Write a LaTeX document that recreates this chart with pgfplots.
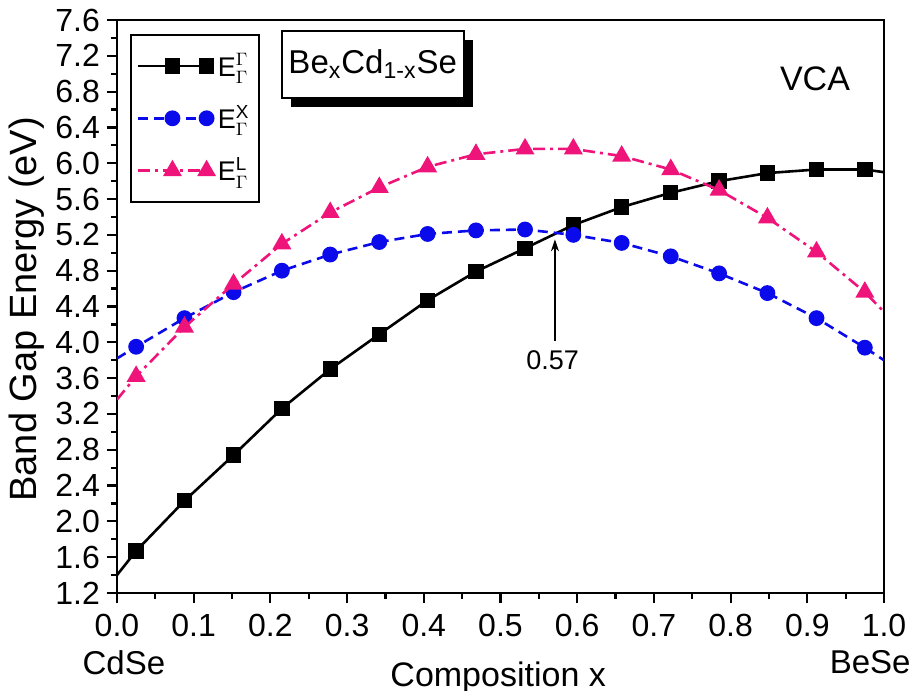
\documentclass[border=0pt]{standalone}
\usepackage{amsmath}
\usepackage{fontspec}
\setmainfont{Liberation Sans}
\usepackage{pgfplots}
\pgfplotsset{compat=1.18}
\usetikzlibrary{shadows,arrows.meta}

\definecolor{cblue}{RGB}{10,10,235}
\definecolor{cpink}{RGB}{238,20,122}

\begin{document}
\begin{tikzpicture}
\begin{axis}[
  scale only axis,
  width=383.5pt, height=286.5pt,
  xmin=0, xmax=1, ymin=1.2, ymax=7.6,
  clip mode=individual,
  xtick={0,0.1,...,1.0}, minor x tick num=1,
  ytick={1.2,1.6,...,7.6}, minor y tick num=1,
  xtick pos=bottom, ytick pos=left,
  tick align=outside,
  major tick length=5pt, minor tick length=3pt,
  every tick/.style={black, line width=1.1pt},
  axis line style={line width=1.4pt},
  /pgf/number format/assume math mode=true,
  /pgf/number format/.cd, fixed, fixed zerofill, precision=1, /pgfplots/.cd,
  tick label style={font=\fontsize{16}{16}\selectfont},
  xticklabel style={yshift=-2pt},
  ylabel={Band Gap Energy (eV)},
  ylabel style={font=\fontsize{19}{19}\selectfont, at={(rel axis cs:-0.118,0.495)}, anchor=center},
  legend style={at={(rel axis cs:0.017,0.975)}, anchor=north west,
    draw=black, line width=1pt, font=\fontsize{13.5}{13.5}\selectfont,
    row sep=9pt, inner ysep=7pt, inner xsep=3pt},
  legend cell align=left,
  legend image code/.code={\draw[mark repeat=2,mark phase=2] plot coordinates {(0cm,0cm) (0.6cm,0cm) (1.2cm,0cm)};},
]
\addplot[black, line width=1.3pt, mark=square*, mark size=3.2pt, mark options={solid}, mark indices={2,...,17}] coordinates {
  (0.000,1.40) (0.025,1.67) (0.088,2.23) (0.152,2.74) (0.215,3.26) (0.278,3.70)
  (0.342,4.09) (0.405,4.47) (0.468,4.79) (0.532,5.05) (0.595,5.31) (0.658,5.51)
  (0.722,5.67) (0.785,5.80) (0.848,5.89) (0.912,5.93) (0.975,5.93) (1.000,5.90)
};
\addlegendentry{E$^{\Gamma}_{\Gamma}$}
\addplot[cblue, line width=1.3pt, dash pattern=on 5pt off 3pt, mark=*, mark size=3.3pt, mark options={solid}, mark indices={2,...,17}] coordinates {
  (0.000,3.82) (0.025,3.95) (0.088,4.27) (0.152,4.56) (0.215,4.80) (0.278,4.98)
  (0.342,5.12) (0.405,5.21) (0.468,5.25) (0.532,5.26) (0.595,5.20) (0.658,5.11)
  (0.722,4.96) (0.785,4.77) (0.848,4.55) (0.912,4.27) (0.975,3.94) (1.000,3.80)
};
\addlegendentry{E$^{\text{X}}_{\Gamma}$}
\addplot[cpink, line width=1.3pt, dash pattern=on 6pt off 2.5pt on 1.5pt off 2.5pt, mark=triangle*, mark size=4.2pt, mark options={solid}, mark indices={2,...,17}] coordinates {
  (0.000,3.36) (0.025,3.62) (0.088,4.17) (0.152,4.65) (0.215,5.10) (0.278,5.45)
  (0.342,5.73) (0.405,5.96) (0.468,6.10) (0.532,6.16) (0.595,6.16) (0.658,6.08)
  (0.722,5.93) (0.785,5.70) (0.848,5.39) (0.912,5.01) (0.975,4.56) (1.000,4.34)
};
\addlegendentry{E$^{\text{L}}_{\Gamma}$}

\node[draw=black, line width=1pt, fill=white, minimum width=76pt, minimum height=33.5pt,
  drop shadow={shadow xshift=4.5pt, shadow yshift=-4.5pt, opacity=1, fill=black},
  font=\fontsize{16.5}{16.5}\selectfont] at (rel axis cs:0.3335,0.923) {Be\textsubscript{x}Cd\textsubscript{1-x}Se};
\node[font=\fontsize{17}{17}\selectfont] at (rel axis cs:0.91,0.898) {VCA};
\draw[-{Stealth[length=6pt,width=4pt]}, line width=1pt] (axis cs:0.571,4.02) -- (axis cs:0.571,5.15);
\node[font=\fontsize{13.5}{13.5}\selectfont] at (axis cs:0.568,3.80) {0.57};
\node[font=\fontsize{16.5}{16.5}\selectfont] at (rel axis cs:0.009,-0.121) {CdSe};
\node[font=\fontsize{16.5}{16.5}\selectfont] at (rel axis cs:0.982,-0.121) {BeSe};
\node[font=\fontsize{17}{17}\selectfont] at (rel axis cs:0.497,-0.147) {Composition x};
\coordinate (bl) at (rel axis cs:-0.1525,-0.171);
\coordinate (tr) at (rel axis cs:1.0391,1.0349);
\end{axis}
\pgfresetboundingbox
\path (bl) rectangle (tr);
\end{tikzpicture}
\end{document}
